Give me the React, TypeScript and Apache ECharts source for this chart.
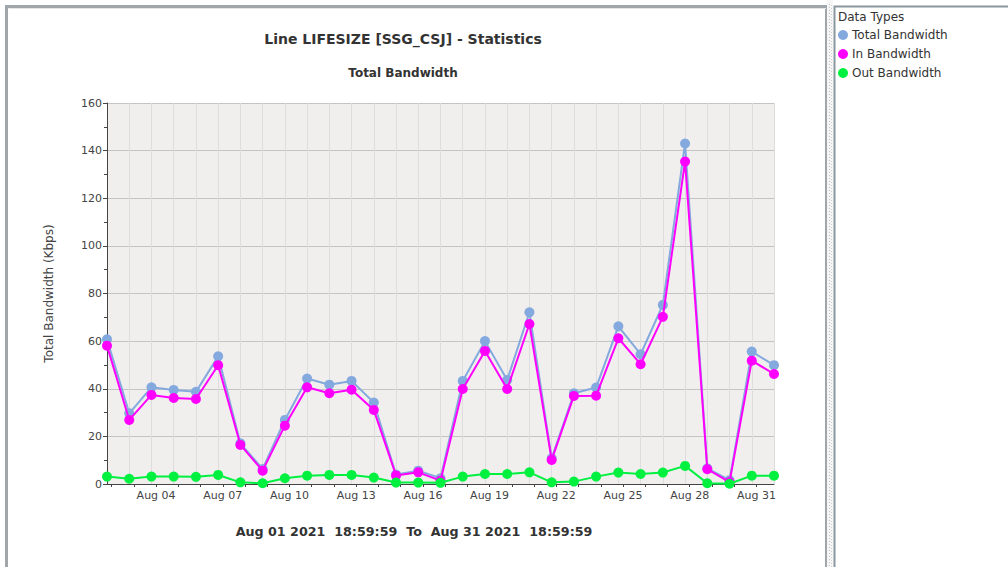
import React, { useEffect, useRef } from "react";
import * as echarts from "echarts";

// ---- data (one sample per day, taken at 18:59:59) ----
const dayLabels = [
  "Aug 01", "Aug 02", "Aug 03", "Aug 04", "Aug 05", "Aug 06", "Aug 07", "Aug 08",
  "Aug 09", "Aug 10", "Aug 11", "Aug 12", "Aug 13", "Aug 14", "Aug 15", "Aug 16",
  "Aug 17", "Aug 18", "Aug 19", "Aug 20", "Aug 21", "Aug 22", "Aug 23", "Aug 24",
  "Aug 25", "Aug 26", "Aug 27", "Aug 28", "Aug 29", "Aug 30", "Aug 31",
];
const totalBandwidth = [
  60.8, 29.7, 40.6, 39.5, 38.7, 53.6, 17.1, 6.3, 26.9, 44.3, 41.7, 43.3, 34.2, 4.0, 5.6, 2.4,
  43.3, 60.0, 43.7, 72.1, 10.8, 38.1, 40.5, 66.2, 54.5, 75.2, 143.0, 6.6, 1.6, 55.6, 49.9,
];
const inBandwidth = [
  58.1, 26.9, 37.4, 36.1, 35.7, 49.9, 16.4, 5.6, 24.5, 40.6, 38.1, 39.6, 31.1, 3.6, 4.9, 1.4,
  39.9, 55.9, 39.9, 67.2, 10.1, 37.0, 37.1, 61.2, 50.3, 70.2, 135.4, 6.2, 0.8, 51.8, 46.2,
];
const outBandwidth = [
  3.1, 2.2, 3.1, 3.1, 3.0, 3.8, 0.7, 0.3, 2.4, 3.5, 3.8, 3.8, 2.7, 0.6, 0.6, 0.5,
  3.1, 4.2, 4.2, 4.9, 0.7, 1.0, 3.1, 4.8, 4.2, 4.8, 7.6, 0.3, 0.1, 3.5, 3.5,
];
const seriesNames = ["Total Bandwidth", "In Bandwidth", "Out Bandwidth"];
const seriesColors = ["#84a9de", "#ff00ff", "#00f040"];
const tickLabelDays = ["Aug 04", "Aug 07", "Aug 10", "Aug 13", "Aug 16", "Aug 19", "Aug 22", "Aug 25", "Aug 28", "Aug 31"];
const yTicks = [0, 20, 40, 60, 80, 100, 120, 140, 160];

const sampleHour = 19; // samples are at 18:59:59
const FONT = "DejaVu Sans";

export default function App() {
  const ref = useRef<HTMLDivElement>(null);

  useEffect(() => {
    if (!ref.current) return;
    const chart = echarts.init(ref.current, null, { renderer: "svg" });
    const midnightOffset = (24 - sampleHour) / 24; // first midnight after the first sample
    const nDays = dayLabels.length;
    const midnightTicks: number[] = [];
    for (let i = 0; i < nDays - 1; i++) midnightTicks.push(midnightOffset + i);
    const labelValues = tickLabelDays.map((l) => dayLabels.indexOf(l) - 1 + midnightOffset);
    const labelFor = (v: number) => {
      const idx = Math.round(v - midnightOffset) + 1;
      return dayLabels[idx] ?? "";
    };
    const toPairs = (arr: number[]) => arr.map((v, i) => [i, v]);
    const allData = [totalBandwidth, inBandwidth, outBandwidth];

    chart.setOption({
      animation: false,
      backgroundColor: "#ffffff",
      textStyle: { fontFamily: FONT },
      grid: {
        left: 107,
        top: 103,
        width: 667,
        height: 381,
        show: true,
        backgroundColor: "#f0efee",
        borderWidth: 0,
      },
      legend: {
        orient: "vertical",
        left: 838,
        top: 29,
        padding: 0,
        icon: "circle",
        itemWidth: 10,
        itemHeight: 10,
        itemGap: 7,
        selectedMode: false,
        data: seriesNames,
        textStyle: { fontFamily: FONT, fontSize: 12, color: "#333333", padding: [0, 0, 0, -1] },
      },
      xAxis: [
        {
          type: "value",
          min: 0,
          max: nDays - 1,
          interval: 1,
          axisLine: { show: true, lineStyle: { color: "#444444", width: 1 } },
          axisTick: { show: false },
          axisLabel: { show: false },
          splitLine: { show: true, lineStyle: { color: "#dddddd", width: 1 } },
        },
        {
          type: "value",
          min: 0,
          max: nDays - 1,
          position: "bottom",
          axisLine: { show: false },
          axisTick: {
            show: true,
            inside: false,
            length: 3,
            customValues: midnightTicks,
            lineStyle: { color: "#444444" },
          },
          axisLabel: {
            show: true,
            customValues: labelValues,
            formatter: (v: number) => labelFor(v),
            fontFamily: FONT,
            fontSize: 11,
            color: "#444444",
            margin: 6,
          },
          splitLine: { show: false },
        },
      ],
      yAxis: {
        type: "value",
        min: yTicks[0],
        max: yTicks[yTicks.length - 1],
        interval: yTicks[1] - yTicks[0],
        name: "Total Bandwidth (Kbps)",
        nameLocation: "middle",
        nameGap: 52,
        nameTextStyle: { fontFamily: FONT, fontSize: 12, color: "#444444" },
        axisLine: { show: true, lineStyle: { color: "#444444", width: 1 } },
        axisTick: { show: true, length: 4, lineStyle: { color: "#444444" } },
        minorTick: { show: true, splitNumber: 2, length: 3, lineStyle: { color: "#444444" } },
        axisLabel: { fontFamily: FONT, fontSize: 11, color: "#444444", margin: 5 },
        splitLine: { show: true, lineStyle: { color: "#c4c4c4", width: 1 } },
      },
      series: seriesNames.map((name, k) => ({
        name,
        type: "line",
        xAxisIndex: 0,
        data: toPairs(allData[k]),
        symbol: "circle",
        symbolSize: 10,
        showSymbol: true,
        lineStyle: { width: 2, color: seriesColors[k] },
        itemStyle: { color: seriesColors[k] },
        z: 2 + k,
      })),
      graphic: [
        // left panel border
        {
          type: "rect",
          silent: true,
          shape: { x: 6.5, y: 6.5, width: 820, height: 620 },
          style: { fill: "none", stroke: "#a0a6aa", lineWidth: 3 },
          z: 100,
        },
        {
          type: "line",
          silent: true,
          shape: { x1: 8.5, y1: 8.5, x2: 826, y2: 8.5 },
          style: { stroke: "#e6e6e6", lineWidth: 1 },
          z: 100,
        },
        // splitter
        {
          type: "rect",
          silent: true,
          shape: { x: 827, y: 0, width: 6, height: 567 },
          style: { fill: "#f6f6f6" },
          z: 100,
        },
        {
          type: "line",
          silent: true,
          shape: { x1: 829.5, y1: 4, x2: 829.5, y2: 567 },
          style: { stroke: "#c4c4c4", lineWidth: 1, lineDash: [1, 2] },
          z: 101,
        },
        {
          type: "line",
          silent: true,
          shape: { x1: 831.5, y1: 5, x2: 831.5, y2: 567 },
          style: { stroke: "#d0d0d0", lineWidth: 1, lineDash: [1, 2] },
          z: 101,
        },
        // right panel border
        {
          type: "rect",
          silent: true,
          shape: { x: 834.5, y: 6.5, width: 200, height: 620 },
          style: { fill: "none", stroke: "#8a979f", lineWidth: 2 },
          z: 100,
        },
        {
          type: "text",
          x: 838,
          y: 17,
          style: {
            text: "Data Types",
            fontFamily: FONT,
            fontSize: 12,
            fill: "#333333",
            textAlign: "left",
            textVerticalAlign: "middle",
          },
        },
        {
          type: "text",
          x: 403,
          y: 39,
          style: {
            text: "Line LIFESIZE [SSG_CSJ] - Statistics",
            fontFamily: FONT,
            fontSize: 14,
            fontWeight: "bold",
            fill: "#333333",
            textAlign: "center",
            textVerticalAlign: "middle",
          },
        },
        {
          type: "text",
          x: 403,
          y: 73,
          style: {
            text: "Total Bandwidth",
            fontFamily: FONT,
            fontSize: 12,
            fontWeight: "bold",
            fill: "#333333",
            textAlign: "center",
            textVerticalAlign: "middle",
          },
        },
        {
          type: "text",
          x: 414,
          y: 531,
          style: {
            text: "Aug 01 2021  18:59:59  To  Aug 31 2021  18:59:59",
            fontFamily: FONT,
            fontSize: 12.7,
            fontWeight: "bold",
            fill: "#333333",
            textAlign: "center",
            textVerticalAlign: "middle",
          },
        },
      ],
    });
    return () => chart.dispose();
  }, []);

  return (
    <div
      ref={ref}
      style={{ position: "absolute", left: 0, top: 0, width: 1008, height: 567 }}
    />
  );
}
